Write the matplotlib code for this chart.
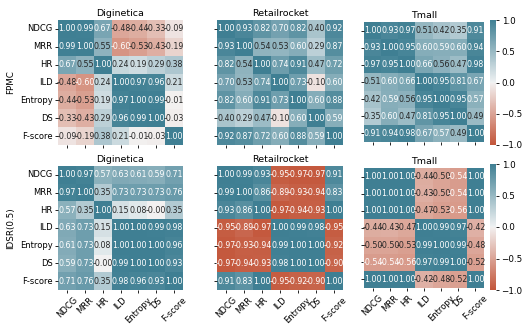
import numpy as np
import matplotlib
matplotlib.use("Agg")
import matplotlib.pyplot as plt
import seaborn as sns

metrics = ["NDCG", "MRR", "HR", "ILD", "Entropy", "DS", "F-score"]
datasets = ["Diginetica", "Retailrocket", "Tmall"]
models = ["FPMC", "IDSR(0.5)"]

fpmc_diginetica = [
    [1.00, 0.99, 0.67, -0.48, -0.44, -0.33, -0.09],
    [0.99, 1.00, 0.55, -0.60, -0.53, -0.43, -0.19],
    [0.67, 0.55, 1.00, 0.24, 0.19, 0.29, 0.38],
    [-0.48, -0.60, 0.24, 1.00, 0.97, 0.96, 0.21],
    [-0.44, -0.53, 0.19, 0.97, 1.00, 0.99, -0.01],
    [-0.33, -0.43, 0.29, 0.96, 0.99, 1.00, -0.03],
    [-0.09, -0.19, 0.38, 0.21, -0.01, -0.03, 1.00],
]
fpmc_retailrocket = [
    [1.00, 0.93, 0.82, 0.70, 0.82, 0.40, 0.92],
    [0.93, 1.00, 0.54, 0.53, 0.60, 0.29, 0.87],
    [0.82, 0.54, 1.00, 0.74, 0.91, 0.47, 0.72],
    [0.70, 0.53, 0.74, 1.00, 0.73, -0.10, 0.60],
    [0.82, 0.60, 0.91, 0.73, 1.00, 0.60, 0.88],
    [0.40, 0.29, 0.47, -0.10, 0.60, 1.00, 0.59],
    [0.92, 0.87, 0.72, 0.60, 0.88, 0.59, 1.00],
]
fpmc_tmall = [
    [1.00, 0.93, 0.97, 0.51, 0.42, 0.35, 0.91],
    [0.93, 1.00, 0.95, 0.60, 0.59, 0.60, 0.94],
    [0.97, 0.95, 1.00, 0.66, 0.56, 0.47, 0.98],
    [0.51, 0.60, 0.66, 1.00, 0.95, 0.81, 0.67],
    [0.42, 0.59, 0.56, 0.95, 1.00, 0.95, 0.57],
    [0.35, 0.60, 0.47, 0.81, 0.95, 1.00, 0.49],
    [0.91, 0.94, 0.98, 0.67, 0.57, 0.49, 1.00],
]
idsr_diginetica = [
    [1.00, 0.97, 0.57, 0.63, 0.61, 0.59, 0.71],
    [0.97, 1.00, 0.35, 0.73, 0.73, 0.73, 0.76],
    [0.57, 0.35, 1.00, 0.15, 0.08, -0.001, 0.35],
    [0.63, 0.73, 0.15, 1.00, 1.00, 0.99, 0.98],
    [0.61, 0.73, 0.08, 1.00, 1.00, 1.00, 0.96],
    [0.59, 0.73, -0.001, 0.99, 1.00, 1.00, 0.93],
    [0.71, 0.76, 0.35, 0.98, 0.96, 0.93, 1.00],
]
idsr_retailrocket = [
    [1.00, 0.99, 0.93, -0.95, -0.97, -0.97, 0.91],
    [0.99, 1.00, 0.86, -0.89, -0.93, -0.94, 0.83],
    [0.93, 0.86, 1.00, -0.97, -0.94, -0.93, 1.00],
    [-0.95, -0.89, -0.97, 1.00, 0.99, 0.98, -0.95],
    [-0.97, -0.93, -0.94, 0.99, 1.00, 1.00, -0.92],
    [-0.97, -0.94, -0.93, 0.98, 1.00, 1.00, -0.90],
    [0.91, 0.83, 1.00, -0.95, -0.92, -0.90, 1.00],
]
idsr_tmall = [
    [1.00, 1.00, 1.00, -0.44, -0.50, -0.54, 1.00],
    [1.00, 1.00, 1.00, -0.43, -0.50, -0.54, 1.00],
    [1.00, 1.00, 1.00, -0.47, -0.53, -0.56, 1.00],
    [-0.44, -0.43, -0.47, 1.00, 0.99, 0.97, -0.42],
    [-0.50, -0.50, -0.53, 0.99, 1.00, 0.99, -0.48],
    [-0.54, -0.54, -0.56, 0.97, 0.99, 1.00, -0.52],
    [1.00, 1.00, 1.00, -0.42, -0.48, -0.52, 1.00],
]

data = [
    [fpmc_diginetica, fpmc_retailrocket, fpmc_tmall],
    [idsr_diginetica, idsr_retailrocket, idsr_tmall],
]

W, H = 531, 328
fig = plt.figure(figsize=(W / 100, H / 100), dpi=100)


def ax_px(x, y, w, h):
    return fig.add_axes([x / W, 1 - (y + h) / H, w / W, h / H])


cmap = sns.diverging_palette(20, 220, as_cmap=True)

# pixel boxes for each panel
boxes = [
    [(58, 20, 125, 125), (217, 20, 126, 125), (364, 22, 120, 120)],
    [(58, 166, 125, 124), (217, 166, 126, 124), (364, 168, 120, 120)],
]
cbar_boxes = [(490, 20, 6, 125), (490, 164, 6, 126)]

for r in range(2):
    for c in range(3):
        ax = ax_px(*boxes[r][c])
        cax = ax_px(*cbar_boxes[r]) if c == 2 else None
        df = np.array(data[r][c])
        sns.heatmap(df, ax=ax, cmap=cmap, vmin=-1, vmax=1, center=0,
                    annot=True, fmt=".2f", annot_kws={"size": 5.7},
                    xticklabels=metrics, yticklabels=metrics,
                    cbar=(c == 2), cbar_ax=cax)
        ax.tick_params(length=2.5, width=0.6, labelsize=6, pad=1.5)
        ax.set_title(datasets[c], fontsize=6.8, pad=3)
        if r == 0:
            ax.set_xticklabels([])
        else:
            plt.setp(ax.get_xticklabels(), rotation=45, ha="center")
        if c == 0:
            plt.setp(ax.get_yticklabels(), rotation=0)
            ax.set_ylabel(models[r], fontsize=6.3, labelpad=3)
        else:
            ax.set_yticklabels([])
        if cax is not None:
            cax.tick_params(length=2.5, width=0.6, labelsize=6.3, pad=1.5)

fig.savefig("out.png", dpi=100)
